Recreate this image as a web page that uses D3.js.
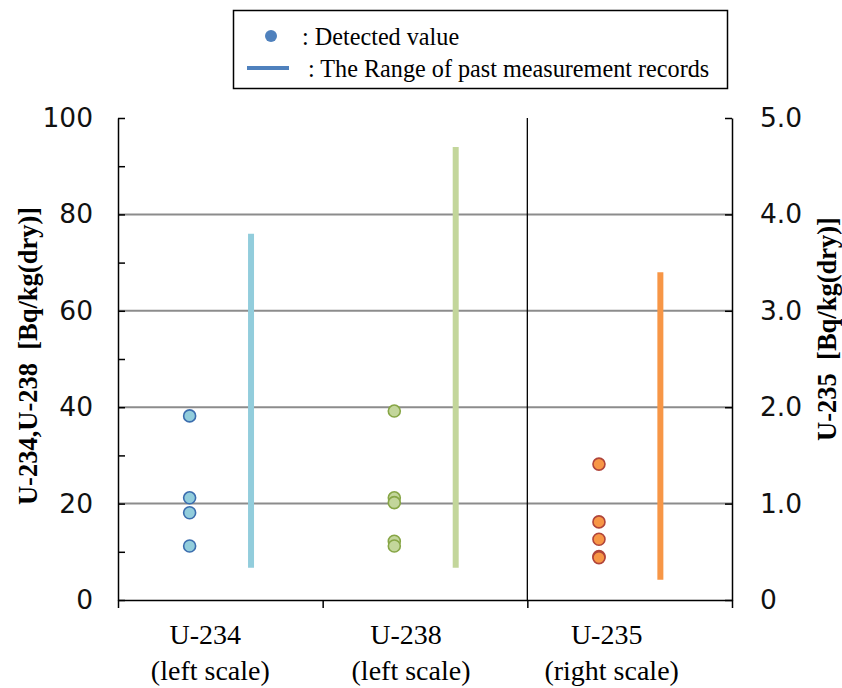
<!DOCTYPE html>
<html>
<head>
<meta charset="utf-8">
<script src="https://cdn.jsdelivr.net/npm/d3@7/dist/d3.min.js"></script>
<style>
  body { margin: 0; background: #fff; }
  svg { display: block; }
  .tick text { font-family: Verdana, "DejaVu Sans", sans-serif; font-size: 26.5px; fill: #111; }
</style>
</head>
<body>
<div id="chart"></div>
<script>
  // nuclides on the x axis, and which scale each one reads from
  const categories = ['U-234', 'U-238', 'U-235']
  const scaleNotes = ['(left scale)', '(left scale)', '(right scale)']
  const useRight = [false, false, true]

  // detected values, Bq/kg(dry)
  const detU234 = [38.2, 21.2, 18.1, 11.2]
  const detU238 = [39.2, 21.2, 20.2, 12.2, 11.2]
  const detU235 = [1.41, 0.81, 0.63, 0.45, 0.44]

  // range of past measurement records [min, max]
  const rangeU234 = [6.7, 76]
  const rangeU238 = [6.7, 94]
  const rangeU235 = [0.21, 3.4]

  const leftTicks = [0, 10, 20, 30, 40, 50, 60, 70, 80, 90, 100]
  const rightTicks = [0, 1, 2, 3, 4, 5]
  const gridValues = [20, 40, 60, 80];

(() => {
  const detected = [detU234, detU238, detU235]
  const ranges = [rangeU234, rangeU238, rangeU235]

  const fills = ['#92CDDC', '#C3D69B', '#F79646']
  const strokes = ['#3B6DAE', '#87A646', '#B0443A']

  const width = 842
  const height = 688
  const pl = 118, pr = 732, pt = 118, pb = 600

  const svg = d3.select('#chart')
    .append('svg')
    .attr('width', width)
    .attr('height', height)

  const yL = d3.scaleLinear().domain([0, 100]).range([pb, pt])
  const yR = d3.scaleLinear().domain([0, 5]).range([pb, pt])
  const x = d3.scaleBand().domain(categories).range([pl, pr])
  const xEdge = d3.scaleLinear().domain([0, 3]).range([pl, pr])
  // the category captions sit a little left of the plot bands
  const xLabel = d3.scaleBand().domain(categories).range([108, 710])

  // grid lines
  svg.append('g')
    .selectAll('line')
    .data(gridValues)
    .enter()
    .append('line')
    .attr('x1', pl)
    .attr('x2', pr)
    .attr('y1', d => yL(d))
    .attr('y2', d => yL(d))
    .attr('stroke', '#8c8c8c')
    .attr('stroke-width', 2)

  // separator between left-scale and right-scale groups
  svg.append('line')
    .attr('x1', xEdge(2))
    .attr('x2', xEdge(2))
    .attr('y1', pt)
    .attr('y2', pb)
    .attr('stroke', '#000')
    .attr('stroke-width', 1.3)

  // left axis, ticks pointing inward
  const gL = svg.append('g')
    .attr('transform', `translate(${pl},0)`)
    .call(d3.axisLeft(yL)
      .tickValues(leftTicks)
      .tickFormat(d => d % 20 === 0 ? d : '')
      .tickSizeInner(-7)
      .tickSizeOuter(0)
      .tickPadding(25))
  gL.selectAll('line, path').attr('stroke', '#000').attr('stroke-width', 1.5)

  // right axis
  const gR = svg.append('g')
    .attr('transform', `translate(${pr},0)`)
    .call(d3.axisRight(yR)
      .tickValues(rightTicks)
      .tickFormat(d => d === 0 ? '0' : d3.format('.1f')(d))
      .tickSizeInner(-7)
      .tickSizeOuter(0)
      .tickPadding(28))
  gR.selectAll('line, path').attr('stroke', '#000').attr('stroke-width', 1.5)

  // bottom axis, ticks at the group edges
  const gB = svg.append('g')
    .attr('transform', `translate(0,${pb})`)
    .call(d3.axisBottom(xEdge)
      .tickValues([0, 1, 2, 3])
      .tickFormat('')
      .tickSizeInner(8)
      .tickSizeOuter(0))
  gB.selectAll('line, path').attr('stroke', '#000').attr('stroke-width', 1.5)

  // category labels
  const serif = '"Liberation Serif", "Times New Roman", serif'
  const cat = svg.append('g')
    .style('font-family', serif)
    .style('font-size', '28px')
    .attr('text-anchor', 'middle')
  cat.selectAll('.name')
    .data(categories)
    .enter()
    .append('text')
    .attr('x', d => xLabel(d) + xLabel.bandwidth() / 2 - 3)
    .attr('y', 644)
    .text(d => d)
  cat.selectAll('.note')
    .data(scaleNotes)
    .enter()
    .append('text')
    .attr('x', (d, i) => xLabel(categories[i]) + xLabel.bandwidth() / 2 + 2)
    .attr('y', 680)
    .text(d => d)

  // range bars
  svg.append('g')
    .selectAll('line')
    .data(ranges)
    .enter()
    .append('line')
    .attr('x1', (d, i) => x(categories[i]) + x.bandwidth() * 0.65)
    .attr('x2', (d, i) => x(categories[i]) + x.bandwidth() * 0.65)
    .attr('y1', (d, i) => (useRight[i] ? yR : yL)(d[0]))
    .attr('y2', (d, i) => (useRight[i] ? yR : yL)(d[1]))
    .attr('stroke', (d, i) => fills[i])
    .attr('stroke-width', 6)

  // detected points
  detected.forEach((vals, i) => {
    const y = useRight[i] ? yR : yL
    svg.append('g')
      .selectAll('circle')
      .data(vals)
      .enter()
      .append('circle')
      .attr('cx', x(categories[i]) + x.bandwidth() * 0.35)
      .attr('cy', d => y(d))
      .attr('r', 6)
      .attr('fill', fills[i])
      .attr('stroke', strokes[i])
      .attr('stroke-width', 1.6)
  })

  // axis titles
  svg.append('text')
    .attr('transform', `translate(37,356) rotate(-90)`)
    .attr('text-anchor', 'middle')
    .style('font-family', serif)
    .style('font-weight', 'bold')
    .style('font-size', '26.5px')
    .style('white-space', 'pre')
    .text('U-234,U-238  [Bq/kg(dry)]')
  svg.append('text')
    .attr('transform', `translate(836,329) rotate(-90)`)
    .attr('text-anchor', 'middle')
    .style('font-family', serif)
    .style('font-weight', 'bold')
    .style('font-size', '26.5px')
    .style('white-space', 'pre')
    .text('U-235  [Bq/kg(dry)]')

  // legend
  const legend = svg.append('g')
  legend.append('rect')
    .attr('x', 233.5)
    .attr('y', 10.5)
    .attr('width', 494)
    .attr('height', 78)
    .attr('fill', '#fff')
    .attr('stroke', '#000')
    .attr('stroke-width', 1.5)
  legend.append('circle')
    .attr('cx', 271)
    .attr('cy', 36)
    .attr('r', 6)
    .attr('fill', '#4F81BD')
  legend.append('line')
    .attr('x1', 247)
    .attr('x2', 289)
    .attr('y1', 68)
    .attr('y2', 68)
    .attr('stroke', '#4F81BD')
    .attr('stroke-width', 4)
  legend.append('text')
    .attr('x', 302)
    .attr('y', 45)
    .style('font-family', serif)
    .style('font-size', '24.2px')
    .text(': Detected value')
  legend.append('text')
    .attr('x', 308)
    .attr('y', 77)
    .style('font-family', serif)
    .style('font-size', '24.2px')
    .text(': The Range of past measurement records')
})()
</script>
</body>
</html>
